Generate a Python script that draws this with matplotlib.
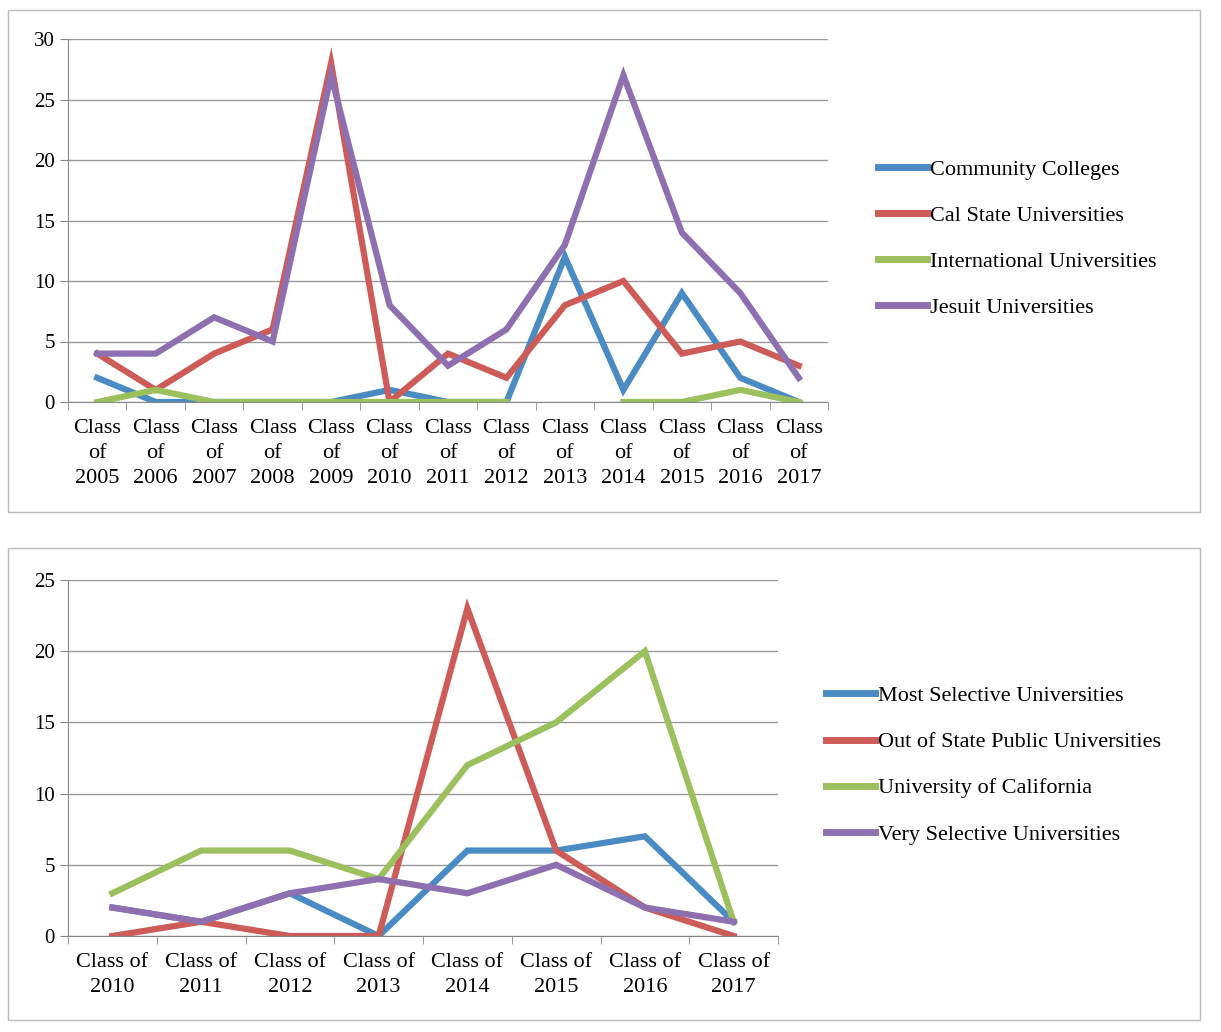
import numpy as np
import matplotlib.pyplot as plt
from matplotlib.patches import Rectangle

years_top = ["Class\nof\n%d" % y for y in range(2005, 2018)]
community = [2, 0, 0, 0, 0, 1, 0, 0, 12, 1, 9, 2, 0]
cal_state = [4, 1, 4, 6, 28, 0, 4, 2, 8, 10, 4, 5, 3]
international = [0, 1, 0, 0, 0, 0, 0, 0, np.nan, 0, 0, 1, 0]
jesuit = [4, 4, 7, 5, 27, 8, 3, 6, 13, 27, 14, 9, 2]

years_bot = ["Class of\n%d" % y for y in range(2010, 2018)]
most_sel = [2, 1, 3, 0, 6, 6, 7, 1]
out_state = [0, 1, 0, 0, 23, 6, 2, 0]
uc = [3, 6, 6, 4, 12, 15, 20, 1]
very_sel = [2, 1, 3, 4, 3, 5, 2, 1]

colors = ["#4A8BC4", "#CD5C58", "#9CC05E", "#8E6FB0"]
serif = "Liberation Serif"

W, H = 1221, 1032
fig = plt.figure(figsize=(W / 100, H / 100), dpi=100)
for (x0, y0, x1, y1) in [(8, 10, 1200, 512), (8, 548, 1200, 1020)]:
    fig.add_artist(Rectangle((x0 / W, 1 - y1 / H), (x1 - x0) / W, (y1 - y0) / H,
                             transform=fig.transFigure, fill=False, ec="#BBBBBB", lw=1))


def panel(rect, labels, series, names, ymax, step, leg_y):
    l, t, r, b = rect
    ax = fig.add_axes([l / W, 1 - b / H, (r - l) / W, (b - t) / H])
    x = np.arange(len(labels))
    for s, c, n in zip(series, colors, names):
        ax.plot(x, s, color=c, lw=4.5, label=n, solid_joinstyle="miter")
    ax.set_xlim(-0.5, len(labels) - 0.5)
    ax.set_ylim(0, ymax)
    ax.set_yticks(np.arange(0, ymax + 1, step))
    ax.set_xticks(x)
    ax.set_xticklabels(labels, fontfamily=serif, fontsize=16, linespacing=1.45)
    ax.set_xticks(np.arange(-0.5, len(labels), 1), minor=True)
    ax.tick_params(axis="x", which="major", length=0, pad=12)
    ax.tick_params(axis="x", which="minor", length=6, color="#888888")
    ax.tick_params(axis="y", length=6, color="#888888", labelsize=15)
    for lab in ax.get_yticklabels():
        lab.set_fontfamily(serif)
    ax.grid(axis="y", color="#999999", lw=1)
    ax.set_axisbelow(True)
    for sp in ["top", "right"]:
        ax.spines[sp].set_visible(False)
    ax.spines["left"].set_color("#888888")
    ax.spines["bottom"].set_color("#888888")
    leg = ax.legend(loc="center left", bbox_to_anchor=(1.04, leg_y), frameon=False,
                    prop={"family": serif, "size": 16}, handlelength=2.2,
                    handletextpad=0.1, labelspacing=1.15)
    for line in leg.get_lines():
        line.set_linewidth(5)
    return ax


panel((68, 39, 828, 402), years_top, [community, cal_state, international, jesuit],
      ["Community Colleges", "Cal State Universities", "International Universities",
       "Jesuit Universities"], 30, 5, 0.45)
panel((68, 580, 778, 936), years_bot, [most_sel, out_state, uc, very_sel],
      ["Most Selective Universities", "Out of State Public Universities",
       "University of California", "Very Selective Universities"], 25, 5, 0.48)

fig.savefig("out.png", dpi=100)
